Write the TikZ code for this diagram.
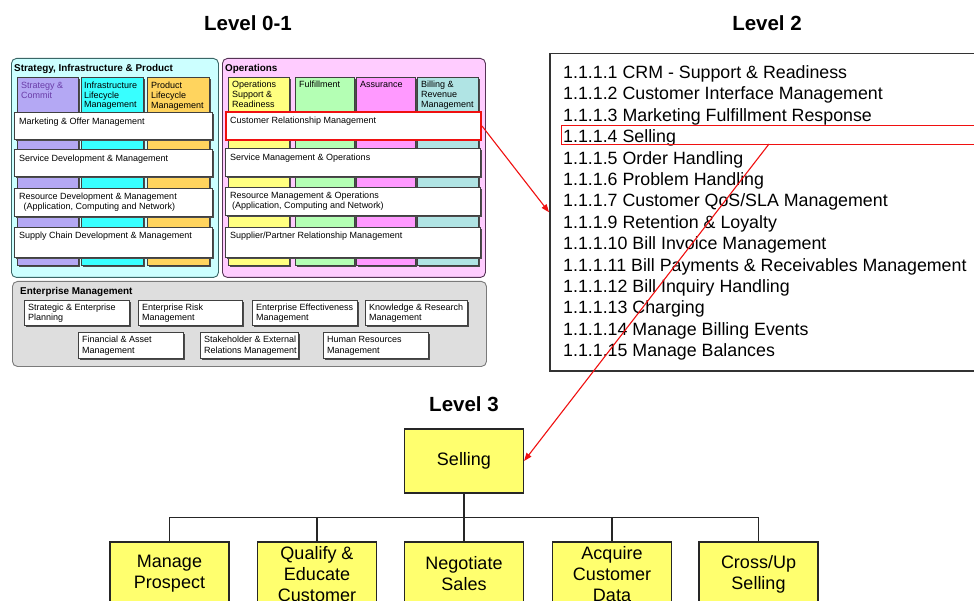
\documentclass[tikz,border=0pt]{standalone}
\usepackage{fontspec}
\setmainfont{Liberation Sans}
\usetikzlibrary{shadows,arrows.meta,calc}
\definecolor{spfill}{HTML}{CCFFFF}
\definecolor{spdraw}{HTML}{3A6666}
\definecolor{opfill}{HTML}{FFCCFF}
\definecolor{opdraw}{HTML}{553355}
\definecolor{scfill}{HTML}{B4A8F4}
\definecolor{ilfill}{HTML}{38FFFF}
\definecolor{plfill}{HTML}{FFD45E}
\definecolor{osfill}{HTML}{FFFF80}
\definecolor{fufill}{HTML}{B4FFB4}
\definecolor{asfill}{HTML}{FF99FF}
\definecolor{bifill}{HTML}{B0E4E4}
\definecolor{emfill}{HTML}{DEDEDE}
\definecolor{emdraw}{HTML}{7A7A7A}
\definecolor{sctext}{HTML}{6A3CA8}
\definecolor{ylw}{HTML}{FFFF6E}
\definecolor{hlred}{HTML}{F01010}
\newcommand\boxat[6]{\node[#1, anchor=north west, inner sep=0pt, minimum width={#5-#3}, minimum height={#6-#4}] (#2) at (#3,#4) {};}
\newcommand\mlines[1]{\begin{tabular}[t]{@{}l@{}}#1\end{tabular}}
\begin{document}
\begin{tikzpicture}[x=1pt,y=-1pt,
  shd/.style={drop shadow={shadow xshift=1.4pt, shadow yshift=-1.4pt, fill=black!70, opacity=1}},
  panel/.style={draw=#1, line width=0.9pt, rounded corners=5pt},
  colbox/.style={draw=black!75, line width=0.8pt, fill=#1, shd},
  wbox/.style={draw=black!75, line width=0.8pt, fill=white, shd},
  tnine/.style={font=\fontsize{9}{10}\selectfont, inner sep=0pt, anchor=base west},
  thead/.style={font=\fontsize{9}{9.6}\selectfont, inner sep=0pt, anchor=base west},
  tbold/.style={font=\fontsize{9.9}{11}\selectfont\bfseries, inner sep=0pt, anchor=base west},
  lvltitle/.style={font=\fontsize{20.5}{24}\selectfont\bfseries, inner sep=0pt},
  ybox/.style={draw=black!85, line width=1.2pt, fill=ylw, minimum width=119, minimum height=64, inner sep=0pt, align=center, font=\fontsize{18}{21}\selectfont},
  redarrow/.style={draw=hlred, line width=1.1pt, -{Triangle[length=8pt,width=6pt]}},
  treeline/.style={draw=black!85, line width=1.2pt}
]
\useasboundingbox (0,0) rectangle (974,601);
\clip (0,0) rectangle (974,601);
\fill[white] (0,0) rectangle (974,601);

% ---------- titles
\node[lvltitle] (t01) at (248,23) {Level 0-1};
\node[lvltitle] (t2) at (767,23) {Level 2};
\node[lvltitle] (t3) at (464,404) {Level 3};

% ---------- Strategy, Infrastructure & Product
\boxat{panel=spdraw, fill=spfill}{sp}{11}{58}{218}{277}
\node[tbold] at (14,71.5) {Strategy, Infrastructure \& Product};
\boxat{colbox=scfill}{sc}{17}{77}{78}{265}
\boxat{colbox=ilfill}{il}{81}{77}{143}{265}
\boxat{colbox=plfill}{pl}{147}{77}{209}{265}
\node[thead, text=sctext] at ($(sc.north west)+(4,12)$) {\mlines{Strategy \&\\Commit}};
\node[thead] at ($(il.north west)+(3,11.5)$) {\mlines{Infrastructure\\Lifecycle\\Management}};
\node[thead] at ($(pl.north west)+(4,12)$) {\mlines{Product\\Lifecycle\\Management}};
\boxat{wbox}{mkt}{14}{112}{212}{139}
\boxat{wbox}{sdm}{14}{149}{212}{176}
\boxat{wbox}{rdm}{14}{188}{212}{216}
\boxat{wbox}{scd}{14}{227}{212}{257}
\node[tnine] at ($(mkt.north west)+(5,12.5)$) {Marketing \& Offer Management};
\node[tnine] at ($(sdm.north west)+(5,12.5)$) {Service Development \& Management};
\node[tnine] at ($(rdm.north west)+(5,11.5)$) {\mlines{Resource Development \& Management\\\hspace*{4.5pt}(Application, Computing and Network)}};
\node[tnine] at ($(scd.north west)+(5,11.5)$) {Supply Chain Development \& Management};

% ---------- Operations
\boxat{panel=opdraw, fill=opfill}{op}{222}{58}{485}{277}
\node[tbold] at (225,71.5) {Operations};
\boxat{colbox=osfill}{os}{228}{77}{289}{265}
\boxat{colbox=fufill}{fu}{295}{77}{354}{265}
\boxat{colbox=asfill}{as}{356}{77}{415}{265}
\boxat{colbox=bifill}{bi}{417}{77}{478}{265}
\node[thead] at ($(os.north west)+(4,11)$) {\mlines{Operations\\Support \&\\Readiness}};
\node[thead] at ($(fu.north west)+(4,11)$) {Fulfillment};
\node[thead] at ($(as.north west)+(4,11)$) {Assurance};
\node[thead] at ($(bi.north west)+(4,11)$) {\mlines{Billing \&\\Revenue\\Management}};
\boxat{wbox}{smo}{225}{148}{480}{176}
\boxat{wbox}{rmo}{225}{187}{480}{215}
\boxat{wbox}{spr}{225}{227}{480}{257}
\boxat{wbox, draw=hlred, line width=2pt}{crm}{225}{111}{480}{139}
\node[tnine] at ($(crm.north west)+(5,12.5)$) {Customer Relationship Management};
\node[tnine] at ($(smo.north west)+(5,12.5)$) {Service Management \& Operations};
\node[tnine] at ($(rmo.north west)+(5,12)$) {\mlines{Resource Management \& Operations\\\hspace*{2pt}(Application, Computing and Network)}};
\node[tnine] at ($(spr.north west)+(5,11.5)$) {Supplier/Partner Relationship Management};

% ---------- Enterprise Management
\boxat{panel=emdraw, fill=emfill}{em}{12}{281}{486}{366}
\node[tbold] at (20,294.5) {Enterprise Management};
\boxat{wbox}{e1}{24}{300}{129}{325}
\boxat{wbox}{e2}{138}{300}{242}{325}
\boxat{wbox}{e3}{252}{300}{357}{325}
\boxat{wbox}{e4}{365}{300}{467}{325}
\boxat{wbox}{e5}{78}{332}{183}{358}
\boxat{wbox}{e6}{200}{332}{298}{358}
\boxat{wbox}{e7}{323}{332}{428}{358}
\node[tnine] at ($(e1.north west)+(4,11)$) {\mlines{Strategic \& Enterprise\\Planning}};
\node[tnine] at ($(e2.north west)+(4,11)$) {\mlines{Enterprise Risk\\Management}};
\node[tnine] at ($(e3.north west)+(4,11)$) {\mlines{Enterprise Effectiveness\\Management}};
\node[tnine] at ($(e4.north west)+(4,11)$) {\mlines{Knowledge \& Research\\Management}};
\node[tnine] at ($(e5.north west)+(4,11)$) {\mlines{Financial \& Asset\\Management}};
\node[tnine] at ($(e6.north west)+(4,11)$) {\mlines{Stakeholder \& External\\Relations Management}};
\node[tnine] at ($(e7.north west)+(4,11)$) {\mlines{Human Resources\\Management}};

% ---------- Level 2 list
\boxat{draw=black!80, line width=1.5pt}{lvl2}{549}{53}{1010}{370}
\node[font=\fontsize{17.8}{21.4}\selectfont, inner sep=0pt, anchor=base west] (list) at (563,78.5) {\mlines{%
1.1.1.1 CRM - Support \& Readiness\\
1.1.1.2 Customer Interface Management\\
1.1.1.3 Marketing Fulfillment Response\\
1.1.1.4 Selling\\
1.1.1.5 Order Handling\\
1.1.1.6 Problem Handling\\
1.1.1.7 Customer QoS/SLA Management\\
1.1.1.9 Retention \& Loyalty\\
1.1.1.10 Bill Invoice Management\\
1.1.1.11 Bill Payments \& Receivables Management\\
1.1.1.12 Bill Inquiry Handling\\
1.1.1.13 Charging\\
1.1.1.14 Manage Billing Events\\
1.1.1.15 Manage Balances}};
\boxat{draw=hlred, line width=1.2pt}{selhl}{561}{125}{1010}{144}

% ---------- Level 3
\node[ybox] (sell) at (464,461) {Selling};
\node[ybox] (c1) at (169.5,574) {Manage\\Prospect};
\node[ybox] (c2) at (317,574) {Qualify \&\\Educate\\Customer};
\node[ybox] (c3) at (464,574) {Negotiate\\Sales};
\node[ybox] (c4) at (612,574) {Acquire\\Customer\\Data};
\node[ybox] (c5) at (758.5,574) {Cross/Up\\Selling};
\foreach \c in {c1,c2,c3,c4,c5}
  \draw[treeline] (sell.south) -- ++(0,24) -| (\c.north);

% ---------- red connectors
\draw[redarrow] (crm.east) -- (lvl2.west);
\coordinate (selfoot) at (769,144);
\draw[redarrow] (selfoot) -- (sell.east);
\end{tikzpicture}
\end{document}
